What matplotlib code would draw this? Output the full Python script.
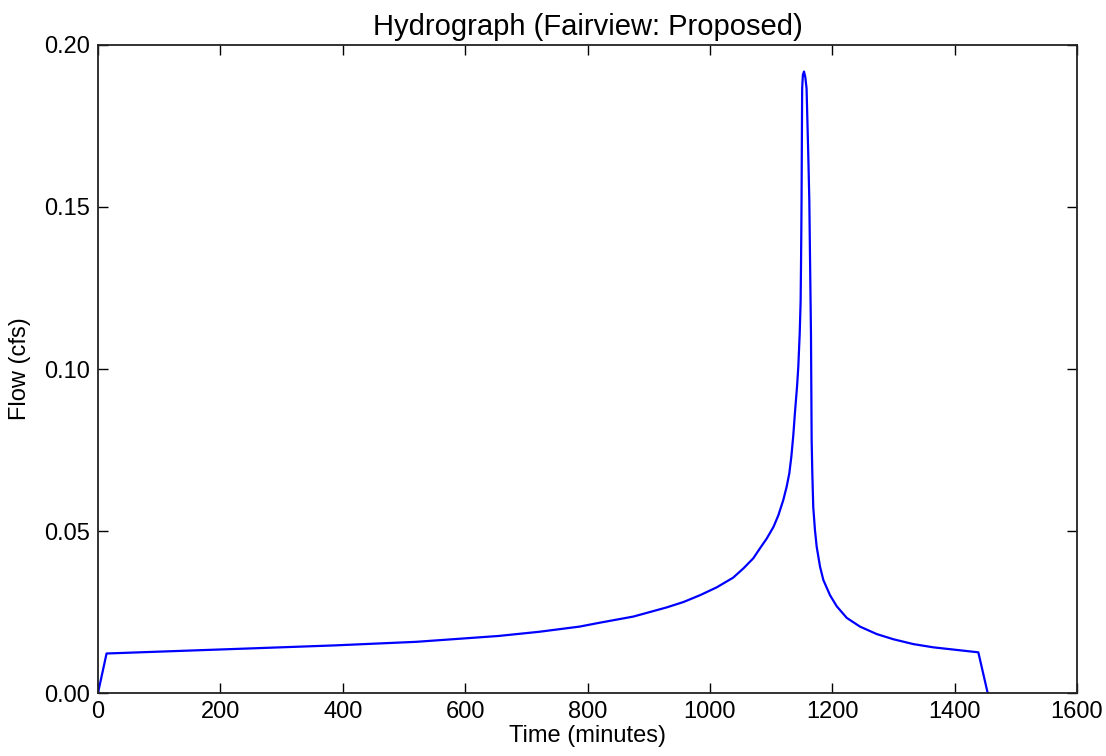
import matplotlib
matplotlib.use("Agg")
import matplotlib.pyplot as plt
from matplotlib.ticker import FormatStrFormatter

plt.rcParams['font.family'] = ['Liberation Sans', 'DejaVu Sans']

# Data (time in minutes, flow in cfs)
time_min = [0, 14, 254, 387, 520, 654, 721, 787, 820, 875, 929, 957, 984,
            1011, 1038, 1055, 1071, 1082, 1093, 1104, 1112, 1120, 1125.5,
            1129.8, 1133.1, 1136.3, 1139, 1142.4, 1144.5, 1146.8, 1148.3,
            1148.9, 1149.4, 1149.8, 1150.2, 1150.8, 1152, 1153.8, 1156, 1158,
            1160.8, 1162.5, 1163.6, 1165.2, 1166.3, 1167.4, 1168.9, 1171.7,
            1174.5, 1180, 1185.4, 1196.3, 1207.2, 1223.6, 1245.3, 1272.6,
            1299.8, 1332.5, 1365.2, 1403.4, 1438.7, 1454]
flow_cfs = [0.0, 0.0122, 0.0138, 0.0147, 0.0158, 0.0176, 0.0189, 0.0205,
            0.0217, 0.0236, 0.0264, 0.0281, 0.0302, 0.0326, 0.0356, 0.0385,
            0.0416, 0.0447, 0.0477, 0.0513, 0.0549, 0.0596, 0.0637, 0.0678,
            0.0729, 0.0795, 0.0865, 0.0945, 0.1007, 0.1110, 0.1210, 0.1316,
            0.1419, 0.1520, 0.1660, 0.1866, 0.1908, 0.1918, 0.1900, 0.1866,
            0.1660, 0.1520, 0.1350, 0.1110, 0.0781, 0.0678, 0.0575, 0.0503,
            0.0452, 0.0390, 0.0349, 0.0302, 0.0268, 0.0232, 0.0205, 0.0182,
            0.0166, 0.0151, 0.0141, 0.0133, 0.01256, 0.0]

x_ticks = [0, 200, 400, 600, 800, 1000, 1200, 1400, 1600]
y_ticks = [0.00, 0.05, 0.10, 0.15, 0.20]

fig = plt.figure(figsize=(11.06, 7.56), dpi=100)
ax = fig.add_axes([0.0886, 0.0833, 0.9738 - 0.0886, 0.9405 - 0.0833])
ax.plot(time_min, flow_cfs, color='#0000ff', linewidth=1.6)

ax.set_xlim(0, 1600)
ax.set_ylim(0, 0.2)
ax.set_xticks(x_ticks)
ax.set_yticks(y_ticks)
ax.yaxis.set_major_formatter(FormatStrFormatter('%.2f'))
ax.tick_params(direction='in', length=7, width=1, top=True, right=True,
               labelsize=17, pad=6, colors='black')
for s in ax.spines.values():
    s.set_linewidth(1.3)
    s.set_color('#222222')

ax.set_title('Hydrograph (Fairview: Proposed)', fontsize=21, pad=7)
ax.set_xlabel('Time (minutes)', fontsize=17, labelpad=1)
ax.set_ylabel('Flow (cfs)', fontsize=17, labelpad=9)

fig.savefig('out.png', dpi=100, facecolor='white')
